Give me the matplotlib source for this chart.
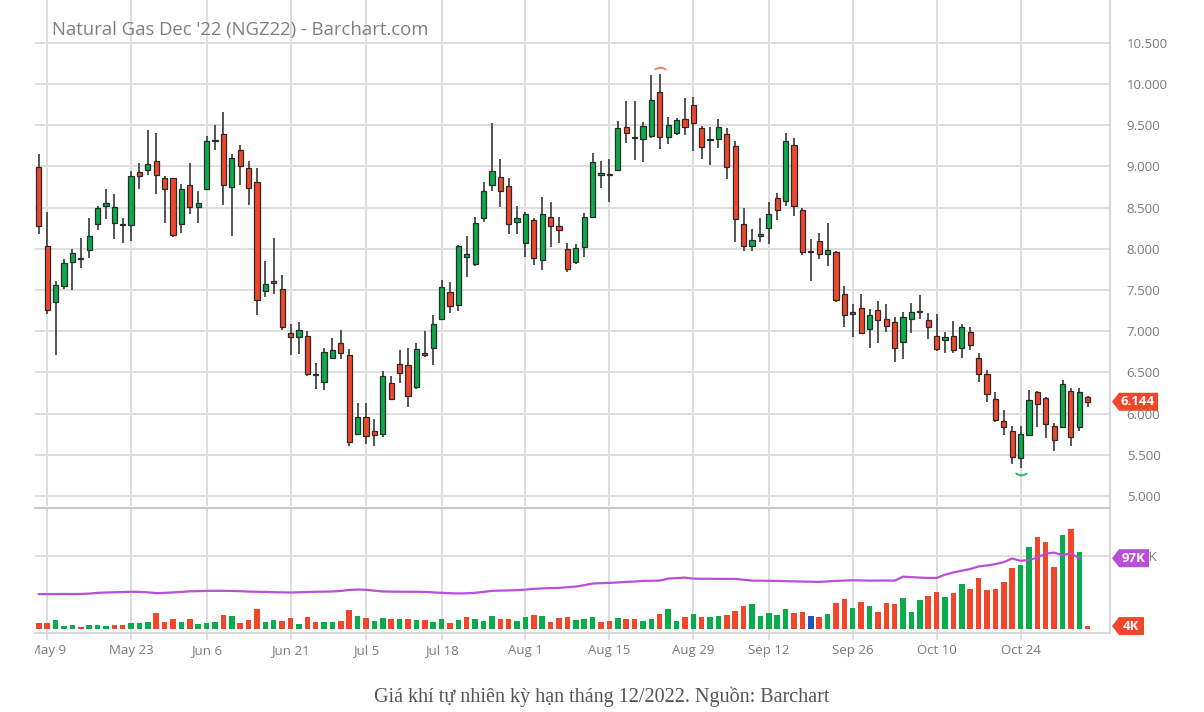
import matplotlib
matplotlib.use("Agg")
import matplotlib.pyplot as plt
import numpy as np
from matplotlib.patches import Polygon
from matplotlib.transforms import Bbox, TransformedBbox, IdentityTransform

# Daily OHLC, trading days from May 6 to Nov 3 2022
opens = [8.99, 8.04, 7.351, 7.548, 7.835, 7.871, 7.98, 8.306, 8.52, 8.315,
         8.30, 8.286, 8.927, 8.952, 9.065, 8.855, 8.863, 8.306, 8.778, 8.508,
         8.726, 9.308, 9.387, 8.754, 9.194, 8.976, 8.81, 7.484, 7.609, 7.516,
         6.98, 6.927, 6.944, 6.47, 6.383, 6.673, 6.851, 6.714, 5.75, 5.964,
         5.794, 5.75, 6.367, 6.597, 6.593, 6.327, 6.738, 6.802, 7.149, 7.476,
         7.323, 7.899, 7.814, 8.377, 8.769, 8.866, 8.765, 8.328, 8.073, 8.348,
         7.866, 8.381, 8.279, 7.992, 7.834, 8.016, 8.381, 8.891, 8.905, 8.955,
         9.474, 9.354, 9.328, 9.364, 9.903, 9.36, 9.407, 9.569, 9.75, 9.46,
         9.321, 9.327, 9.399, 9.246, 8.302, 8.036, 8.153, 8.25, 8.621, 8.581,
         9.258, 8.472, 7.96, 8.097, 7.94, 7.96, 7.452, 7.206, 7.282, 7.028,
         7.262, 7.145, 7.113, 6.863, 7.153, 7.236, 7.141, 6.94, 6.895, 6.944,
         6.794, 6.992, 6.677, 6.476, 6.177, 5.907, 5.786, 5.464, 5.742, 6.258,
         6.194, 5.847, 5.835, 6.27, 5.835, 6.202]
highs = [9.145, 8.448, 7.613, 7.871, 7.992, 8.125, 8.375, 8.52, 8.722, 8.669,
         8.375, 8.944, 9.04, 9.444, 9.403, 8.879, 8.863, 8.79, 9.04, 8.702,
         9.371, 9.508, 9.665, 9.153, 9.262, 9.065, 8.984, 7.855, 8.129, 7.685,
         7.093, 7.113, 7.0, 6.617, 6.794, 6.915, 7.016, 6.79, 6.133, 6.125,
         5.931, 6.516, 6.456, 6.77, 6.794, 6.859, 7.0, 7.194, 7.617, 7.601,
         8.048, 8.158, 8.389, 8.814, 9.522, 9.085, 8.854, 8.522, 8.449, 8.368,
         8.632, 8.571, 8.381, 8.073, 8.057, 8.437, 9.158, 9.069, 9.093, 9.551,
         9.798, 9.798, 9.534, 10.109, 10.121, 9.603, 9.593, 9.831, 9.843, 9.492,
         9.472, 9.581, 9.46, 9.31, 8.5, 8.238, 8.379, 8.573, 8.673, 9.411,
         9.339, 8.5, 8.117, 8.19, 8.319, 7.976, 7.544, 7.331, 7.456, 7.27,
         7.363, 7.327, 7.177, 7.234, 7.347, 7.435, 7.226, 7.206, 6.996, 7.125,
         7.085, 7.052, 6.734, 6.532, 6.266, 6.044, 5.855, 5.855, 6.286, 6.27,
         6.198, 5.883, 6.403, 6.31, 6.306, 6.214]
lows = [8.185, 7.206, 6.714, 7.508, 7.50, 7.77, 7.883, 8.226, 8.367, 8.121,
        8.073, 8.097, 8.73, 8.90, 8.669, 8.319, 8.145, 8.194, 8.419, 8.319,
        8.72, 9.194, 8.528, 8.157, 8.778, 8.528, 7.202, 7.415, 7.452, 7.012,
        6.71, 6.726, 6.456, 6.294, 6.286, 6.657, 6.665, 5.609, 5.738, 5.629,
        5.601, 5.722, 6.161, 6.367, 6.085, 6.294, 6.69, 6.585, 7.149, 7.222,
        7.242, 7.66, 7.794, 8.32, 8.704, 8.51, 8.174, 8.174, 7.903, 7.802,
        7.741, 8.016, 8.073, 7.717, 7.814, 7.895, 8.381, 8.741, 8.571, 8.955,
        9.287, 9.077, 9.049, 9.34, 9.206, 9.267, 9.379, 9.379, 9.19, 9.085,
        9.016, 9.218, 8.843, 8.077, 7.968, 7.968, 8.077, 8.056, 8.351, 8.52,
        8.403, 7.919, 7.613, 7.875, 7.786, 7.355, 7.052, 6.927, 6.968, 6.798,
        6.859, 6.992, 6.629, 6.661, 6.984, 7.153, 6.911, 6.762, 6.73, 6.734,
        6.677, 6.774, 6.387, 6.145, 5.895, 5.742, 5.391, 5.339, 5.742, 5.835,
        5.702, 5.544, 5.835, 5.613, 5.786, 6.077]
closes = [8.274, 7.258, 7.56, 7.823, 7.952, 7.891, 8.161, 8.50, 8.552, 8.504,
          8.294, 8.879, 8.887, 9.024, 8.90, 8.73, 8.173, 8.722, 8.508, 8.556,
          9.306, 9.312, 8.778, 9.097, 9.008, 8.742, 7.379, 7.577, 7.581, 7.052,
          6.931, 7.012, 6.484, 6.466, 6.75, 6.778, 6.734, 5.661, 5.964, 5.73,
          5.738, 6.456, 6.181, 6.496, 6.214, 6.786, 6.714, 7.093, 7.536, 7.31,
          8.028, 7.931, 8.308, 8.704, 8.943, 8.696, 8.296, 8.368, 8.421, 7.883,
          8.425, 8.279, 8.223, 7.757, 8.012, 8.385, 9.049, 8.923, 8.901, 9.47,
          9.401, 9.350, 9.49, 9.81, 9.352, 9.502, 9.56, 9.472, 9.528, 9.238,
          9.325, 9.476, 8.996, 8.363, 8.028, 8.101, 8.177, 8.419, 8.476, 9.31,
          8.52, 7.96, 7.96, 7.935, 7.988, 7.375, 7.202, 7.234, 6.984, 7.194,
          7.141, 7.065, 6.802, 7.177, 7.238, 7.242, 7.052, 6.782, 6.927, 6.766,
          7.052, 6.831, 6.48, 6.238, 5.927, 5.839, 5.472, 5.758, 6.165, 6.117,
          5.875, 5.685, 6.355, 5.714, 6.266, 6.144]

# Volume (thousands of contracts)
volume = [7.8, 7.8, 12.3, 4.6, 5.5, 3.2, 5.9, 5.9, 4.6, 5.9,
          5.5, 7.8, 7.8, 9.6, 21.5, 9.6, 13.3, 9.1, 13.3, 6.9,
          7.8, 9.1, 19.2, 17.4, 7.8, 11.9, 27.4, 9.6, 12.3, 10.5,
          14.6, 6.9, 16.0, 9.1, 9.1, 9.1, 10.5, 25.6, 17.4, 15.5,
          11.4, 15.5, 13.7, 13.7, 13.7, 12.3, 12.3, 9.1, 13.3, 8.7,
          11.9, 16.0, 13.7, 11.4, 18.3, 14.2, 13.3, 10.5, 16.9, 18.7,
          17.4, 10.0, 14.6, 16.0, 12.8, 13.7, 16.0, 9.1, 11.4, 14.6,
          13.7, 13.7, 10.5, 13.7, 21.0, 27.0, 11.4, 16.0, 20.1, 16.0,
          16.5, 17.8, 18.7, 24.2, 31.5, 34.7, 18.3, 21.9, 19.7, 27.4,
          22.4, 22.9, 17.8, 16.9, 21.0, 36.1, 41.1, 28.8, 37.5, 31.5,
          22.9, 36.1, 34.7, 42.5, 23.8, 40.2, 45.2, 51.2, 44.3, 49.8,
          61.7, 54.4, 70.4, 53.5, 54.8, 64.9, 83.2, 87.3, 112.9, 125.7,
          118.8, 84.5, 128.9, 136.6, 105.1, 4.0]

# Open interest (thousands)
open_interest = [47.8, 47.8, 47.9, 48.0, 47.9, 48.0, 48.5, 49.5, 50.0, 50.3,
                 50.6, 51.0, 50.8, 50.2, 49.2, 49.5, 50.1, 50.8, 51.6, 51.9,
                 52.2, 52.3, 52.3, 52.1, 51.8, 51.3, 51.0, 50.8, 50.4, 50.2,
                 50.0, 50.3, 50.6, 51.0, 51.2, 51.4, 52.2, 53.5, 54.1, 53.7,
                 52.5, 51.4, 51.2, 51.1, 51.0, 51.0, 50.8, 50.2, 49.6, 49.0,
                 48.7, 48.9, 49.6, 50.8, 52.3, 52.6, 52.9, 53.2, 54.0, 55.0,
                 55.6, 56.0, 56.4, 57.2, 58.2, 60.0, 62.3, 62.8, 63.2, 63.8,
                 64.5, 65.0, 65.9, 66.1, 66.3, 69.0, 69.8, 70.4, 69.0, 68.8,
                 68.8, 68.7, 68.6, 68.6, 67.5, 66.3, 66.2, 66.0, 65.9, 65.5,
                 65.2, 65.0, 64.8, 64.5, 65.2, 65.9, 66.3, 66.8, 66.5, 66.3,
                 66.3, 66.4, 66.3, 71.7, 71.0, 70.4, 70.0, 69.9, 74.4, 77.5,
                 79.9, 82.1, 85.7, 87.0, 88.9, 91.6, 96.6, 93.4, 94.5, 97.9,
                 103.3, 104.7, 101.1, 103.8, 97.0]

tick_pos = [1, 11, 20, 30, 39, 48, 58, 68, 78, 87, 97, 107, 117]
tick_labels = ["May 9", "May 23", "Jun 6", "Jun 21", "Jul 5", "Jul 18", "Aug 1",
               "Aug 15", "Aug 29", "Sep 12", "Sep 26", "Oct 10", "Oct 24"]
price_ticks = [5.0, 5.5, 6.0, 6.5, 7.0, 7.5, 8.0, 8.5, 9.0, 9.5, 10.0, 10.5]

title = "Natural Gas Dec '22 (NGZ22) - Barchart.com"
caption = "Giá khí tự nhiên kỳ hạn tháng 12/2022. Nguồn: Barchart"

UP = "#0aab4a"
DOWN = "#f0472a"
FLAT = "#2450c8"
PURPLE = "#b84fd6"
GRID = "#dedede"
TXT = "#7a7a7a"

plt.rcParams["font.family"] = ["Open Sans", "DejaVu Sans"]

W, H = 1204, 712
fig = plt.figure(figsize=(W / 100, H / 100), dpi=100)


def box(l, t, r, b):
    return [l / W, 1 - b / H, (r - l) / W, (b - t) / H]


ax = fig.add_axes(box(35, 0, 1110, 506))
axv = fig.add_axes(box(35, 508, 1110, 633), sharex=ax)

o = np.array(opens)
h = np.array(highs)
lo = np.array(lows)
c = np.array(closes)
x = np.arange(len(c))

# candles
body_col = np.where(c >= o, UP, DOWN)
ax.vlines(x, lo, h, color="#474747", lw=1.3, zorder=2)
ax.bar(x, np.maximum(np.abs(c - o), 0.012), 0.62, bottom=np.minimum(o, c),
       color=body_col, edgecolor="#2a2a2a", linewidth=0.9, zorder=3)

# high / low markers
ih, il = int(np.argmax(h)), int(np.argmin(lo))
ax.plot(ih, h[ih] + 0.07, marker=r"$\frown$", color="#f28a72", ms=8, zorder=4)
ax.plot(il, lo[il] - 0.07, marker=r"$\smile$", color="#3cc070", ms=8, zorder=4)

# volume coloured by change of close
prev = np.concatenate([[o[0]], c[:-1]])
vcol = np.where(c > prev, UP, np.where(c < prev, DOWN, FLAT))
axv.bar(x, volume, 0.66, color=vcol, zorder=2)
axv.plot(x[:len(open_interest)], open_interest, color=PURPLE, lw=1.6, zorder=3)

ax.set_xlim(-0.45, 127.66)
ax.set_ylim(4.879, 11.019)
axv.set_ylim(-5.5, 165.8)

for a in (ax, axv):
    a.set_xticks(tick_pos)
    a.grid(True, color=GRID, lw=1.4, zorder=0)
    a.set_axisbelow(True)
    a.yaxis.tick_right()
    for s in ("left", "top", "bottom"):
        a.spines[s].set_visible(False)
    a.spines["right"].set_color("#d4d4d4")
    a.spines["right"].set_linewidth(1.3)

ax.set_yticks(price_ticks)
ax.set_yticklabels([f"{v:.3f}" for v in price_ticks])
ax.tick_params(axis="y", length=0, pad=12, labelsize=9.5, labelcolor=TXT)
ax.tick_params(axis="x", length=0, labelbottom=False)

axv.set_yticks([100])
axv.set_yticklabels(["100K"])
axv.tick_params(axis="y", length=0, pad=12, labelsize=9.5, labelcolor=TXT)
axv.set_xticklabels(tick_labels)
axv.tick_params(axis="x", length=5, width=1.4, color=GRID, pad=3,
                labelsize=9.5, labelcolor=TXT)
axv.spines["top"].set_visible(True)
axv.spines["top"].set_color("#c8c8c8")
axv.spines["top"].set_linewidth(1.5)
axv.spines["bottom"].set_visible(True)
axv.spines["bottom"].set_color("#d4d4d4")
axv.spines["bottom"].set_linewidth(1.3)

# first date label is cut by the left edge
clip = TransformedBbox(Bbox([[35 / W, 0], [1, 1]]), fig.transFigure)
first = axv.xaxis.get_major_ticks()[0].label1
first.set_clip_box(clip)
first.set_clip_on(True)

fig.text(52 / W, 1 - 30 / H, title, ha="left", va="center", fontsize=13.3, color="#808080")


def tag(axis, yval, text, color, width):
    xr = axis.transAxes.transform((1, 0))[0]
    yp = axis.transData.transform((0, yval))[1]
    hh = 9
    pts = [(xr + 2, yp), (xr + 9, yp + hh), (xr + 2 + width, yp + hh),
           (xr + 2 + width, yp - hh), (xr + 9, yp - hh)]
    fig.add_artist(Polygon(pts, closed=True, transform=IdentityTransform(),
                           facecolor=color, edgecolor="none", zorder=10))
    fig.text((xr + 5 + width / 2) / W, yp / H, text, ha="center", va="center",
             fontsize=9.5, fontweight="bold", color="white", zorder=11)


tag(ax, closes[-1], f"{closes[-1]:.3f}", DOWN, 46)
tag(axv, open_interest[-1], f"{open_interest[-1]:.0f}K", PURPLE, 37)
tag(axv, volume[-1], f"{volume[-1]:.0f}K", DOWN, 32)

fig.text(0.5, 1 - 697 / H, caption, ha="center", va="center",
         family=["Liberation Serif", "DejaVu Serif"], fontsize=14.5, color="#555555")

fig.savefig("out.png", dpi=100, facecolor="white")
